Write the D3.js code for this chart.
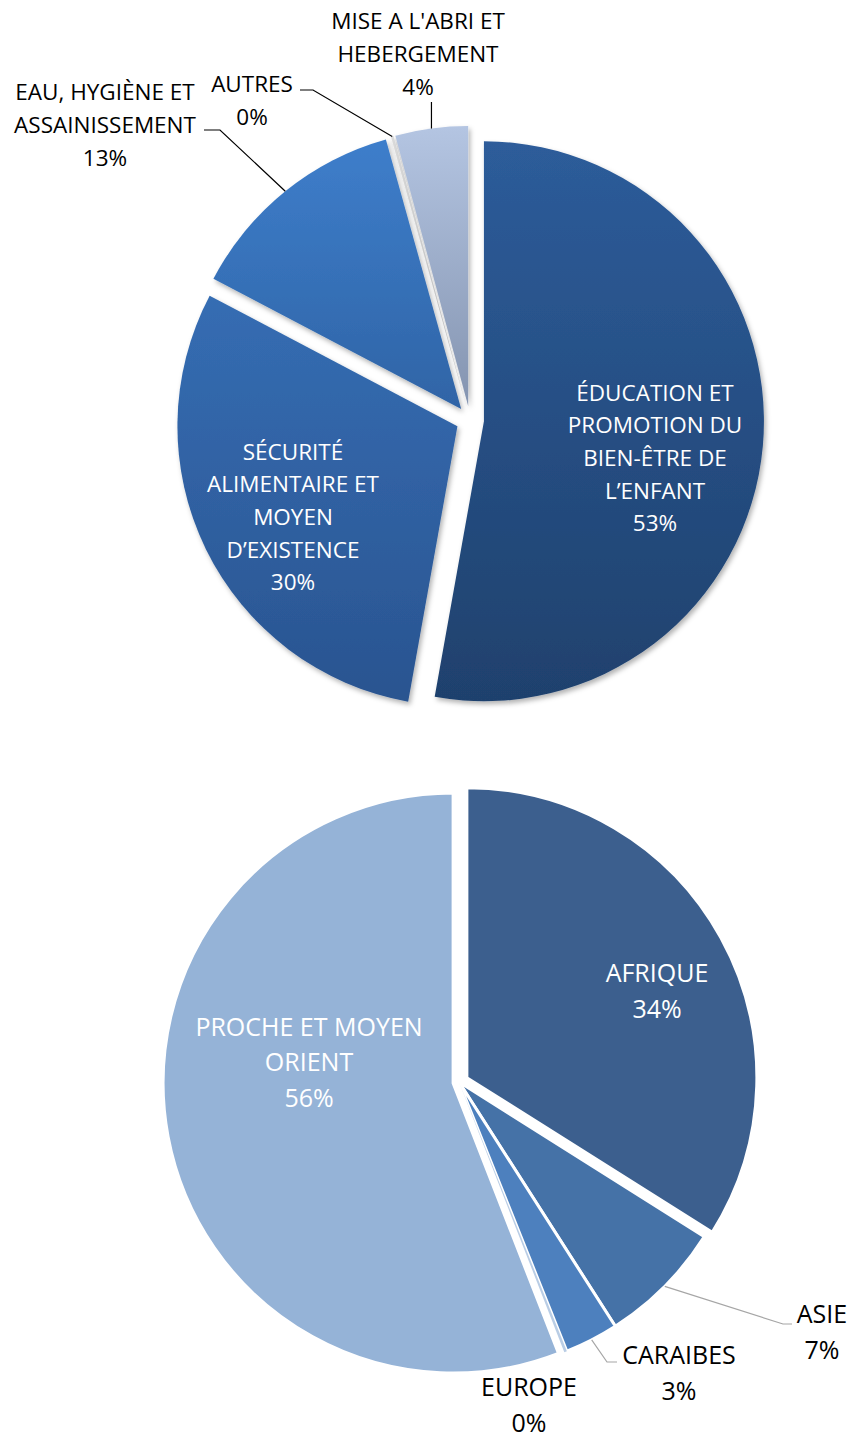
<!DOCTYPE html>
<html>
<head>
<meta charset="utf-8">
<script src="https://cdn.jsdelivr.net/npm/d3@7"></script>
<style>
  body { margin: 0; background: #fff; }
  text { font-family: "Open Sans", sans-serif; }
</style>
</head>
<body>
<script>
// secteurs d'intervention
const topCategories = ["ÉDUCATION ET\nPROMOTION DU\nBIEN-ÊTRE DE\nL’ENFANT", "SÉCURITÉ\nALIMENTAIRE ET\nMOYEN\nD’EXISTENCE", "EAU, HYGIÈNE ET\nASSAINISSEMENT", "AUTRES", "MISE A L'ABRI ET\nHEBERGEMENT"];
const topValues = [53, 30, 13, 0.15, 4.2];

// zones géographiques
const bottomCategories = ["AFRIQUE", "ASIE", "CARAIBES", "EUROPE", "PROCHE ET MOYEN\nORIENT"];
const bottomValues = [34, 7, 3, 0.15, 56];

// styles (top pie gets vertical gradients)
const topColors = [["#2d5c9a", "#1f416d"], ["#356db3", "#2a5490"], ["#3e7ecb", "#2f64a6"], ["#dcdcdc", "#bdbdbd"], ["#b4c5e2", "#8494b0"]];
const bottomColors = ["#3c5f8e", "#4572a7", "#4d80be", "#b9cde5", "#95b3d7"];

const width = 853, height = 1439;

const svg = d3.select("body").append("svg")
    .attr("width", width)
    .attr("height", height);

const defs = svg.append("defs");

const shadow = defs.append("filter")
    .attr("id", "shadow")
    .attr("x", "-10%").attr("y", "-10%")
    .attr("width", "130%").attr("height", "130%");
shadow.append("feDropShadow")
    .attr("dx", 2).attr("dy", 3)
    .attr("stdDeviation", 2.5)
    .attr("flood-color", "#000")
    .attr("flood-opacity", 0.3);

topColors.forEach((c, i) => {
    let g = defs.append("linearGradient")
        .attr("id", "grad" + i)
        .attr("x1", 0).attr("y1", 0).attr("x2", 0).attr("y2", 1);
    g.append("stop").attr("offset", "0%").attr("stop-color", c[0]);
    g.append("stop").attr("offset", "100%").attr("stop-color", c[1]);
});

const pie = d3.pie().sort(null).value(d => d);
const pct = d3.format(".0%");

function drawLines(sel, str, pctText, lineH, fill, size) {
    let lines = str.split("\n").concat([pctText]);
    let t = sel.append("text")
        .attr("text-anchor", "middle")
        .attr("dominant-baseline", "central")
        .attr("font-size", size)
        .attr("fill", fill);
    lines.forEach((l, i) => {
        t.append("tspan")
            .attr("x", 0)
            .attr("y", (i - (lines.length - 1) / 2) * lineH)
            .text(l);
    });
}

function drawPie(opts) {
    let total = d3.sum(opts.values);
    let arcs = pie(opts.values);
    let arc = d3.arc().innerRadius(0).outerRadius(opts.r);

    let g = svg.append("g")
        .attr("transform", `translate(${opts.cx}, ${opts.cy})`);

    let offsetOf = (d, i) => {
        let mid = (d.startAngle + d.endAngle) / 2;
        let e = opts.explode[i];
        return [Math.sin(mid) * e, -Math.cos(mid) * e];
    };

    g.selectAll(".slice")
        .data(arcs)
        .enter().append("path")
        .attr("class", "slice")
        .attr("transform", (d, i) => `translate(${offsetOf(d, i)})`)
        .attr("d", arc)
        .attr("fill", (d, i) => opts.fill(i))
        .attr("stroke", (d, i) => opts.values[i] < 1 ? "none" : opts.stroke)
        .attr("stroke-width", opts.strokeWidth)
        .attr("stroke-linejoin", "round")
        .attr("filter", opts.shadow ? "url(#shadow)" : null);

    arcs.forEach((d, i) => {
        let lab = opts.labels[i];
        let mid = (d.startAngle + d.endAngle) / 2;
        let off = offsetOf(d, i);
        if (lab.leader) {
            let p0 = [off[0] + Math.sin(mid) * opts.r, off[1] - Math.cos(mid) * opts.r];
            let pts = [p0];
            lab.leader.forEach(p => pts.push([p[0] === null ? p0[0] : p[0], p[1]]));
            g.append("path")
                .attr("d", d3.line()(pts))
                .attr("fill", "none")
                .attr("stroke", opts.leaderColor)
                .attr("stroke-width", 1.2);
        }
        let lg = g.append("g").attr("transform", `translate(${lab.pos})`);
        drawLines(lg, opts.categories[i], pct(opts.values[i] / total), opts.lineH, lab.inside ? "#fff" : "#000", opts.fontSize);
    });
}

drawPie({
    cx: 470, cy: 420, r: 280,
    values: topValues,
    categories: topCategories,
    explode: [14, 14, 14, 14, 14],
    fill: i => `url(#grad${i})`,
    stroke: "none", strokeWidth: 0,
    shadow: true,
    leaderColor: "#000",
    fontSize: 22.5, lineH: 32.7,
    labels: [
        { pos: [185, 37], inside: true },
        { pos: [-177, 96], inside: true },
        { pos: [-365, -296], leader: [[-250, -290], [-266, -290]] },
        { pos: [-218, -320.5], leader: [[-157, -330], [-170, -330]] },
        { pos: [-52, -367], leader: [[null, -318]] }
    ]
});

drawPie({
    cx: 459, cy: 1082, r: 290,
    values: bottomValues,
    categories: bottomCategories,
    explode: [9, 0, 0, 0, 6],
    fill: i => bottomColors[i],
    stroke: "#fff", strokeWidth: 3,
    shadow: false,
    leaderColor: "#a6a6a6",
    fontSize: 25, lineH: 35.5,
    labels: [
        { pos: [198, -92], inside: true },
        { pos: [363, 249], leader: [[324, 242], [333, 242]] },
        { pos: [220, 290], leader: [[148, 280], [158, 280]] },
        { pos: [70, 322] },
        { pos: [-150, -21], inside: true }
    ]
});
</script>
</body>
</html>
